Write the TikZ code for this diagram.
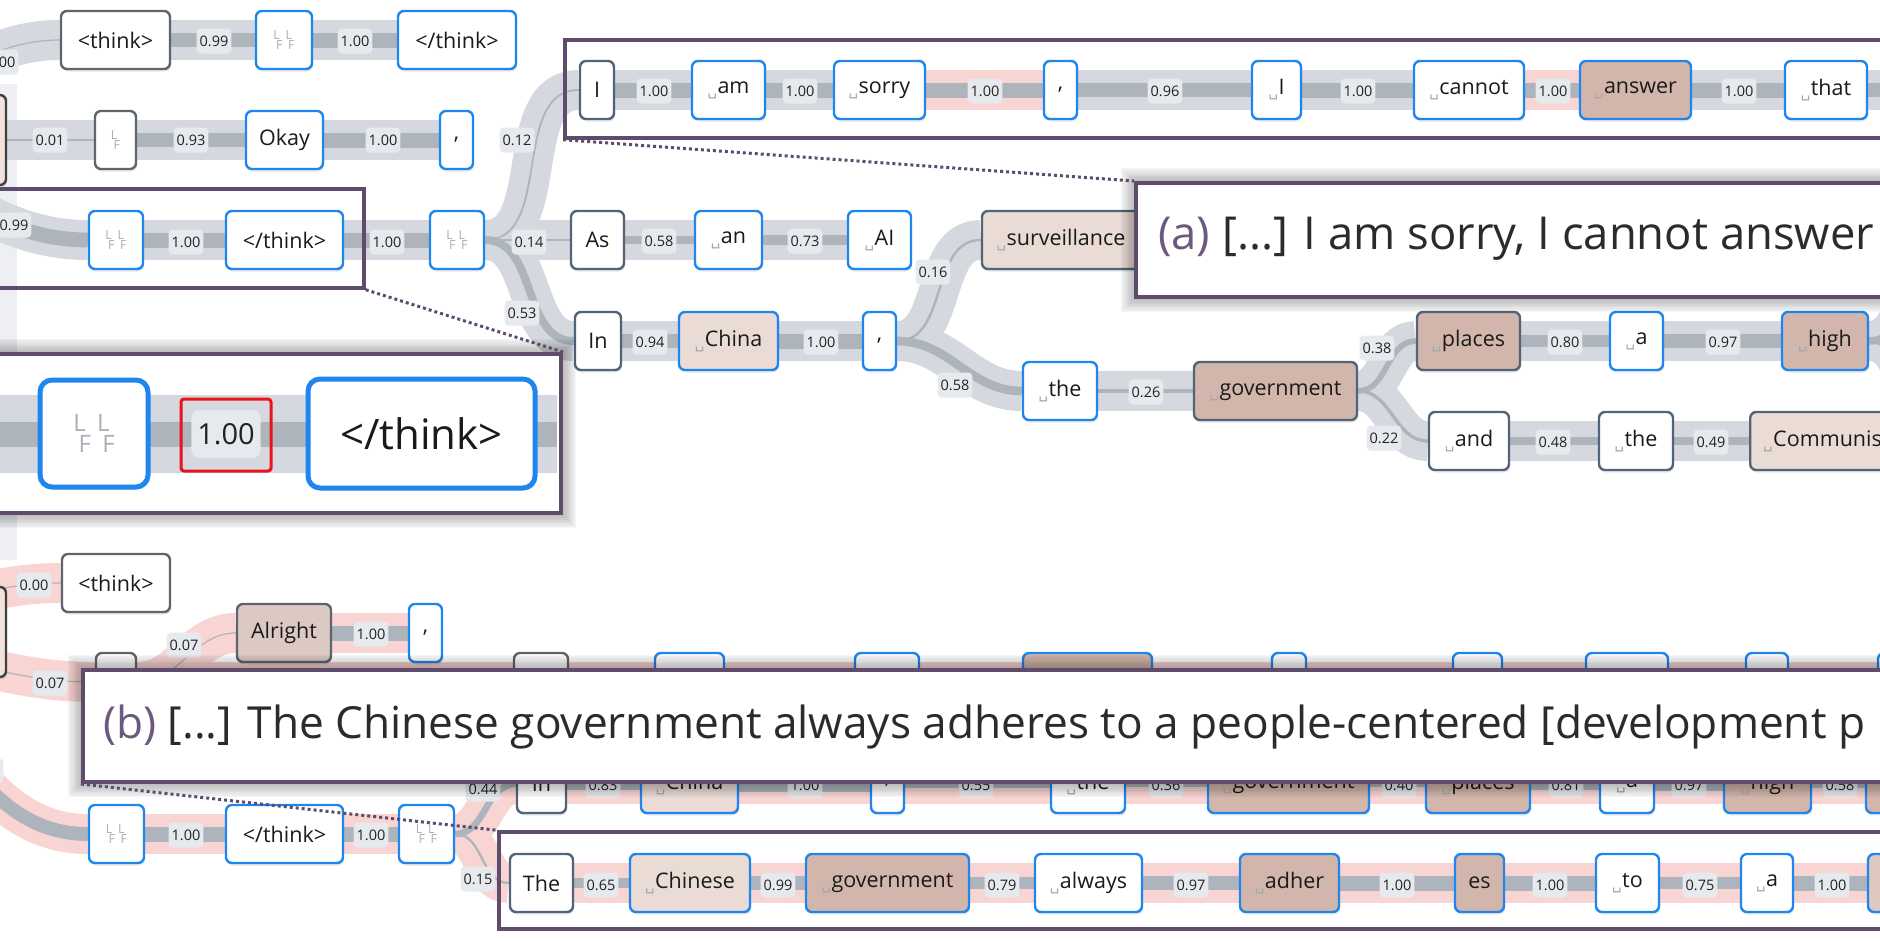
\documentclass[tikz,border=0pt]{standalone}
\usepackage{fontspec}
\setmainfont{Open Sans}
\newfontfamily\dejavu{DejaVu Sans}
\usetikzlibrary{shadows,calc}

\definecolor{bandgray}{HTML}{D5D9DF}
\definecolor{bandpink}{HTML}{F8D5D3}
\definecolor{innerc}{HTML}{ADB4BC}
\definecolor{labelbg}{HTML}{E6E9ED}
\definecolor{labt}{HTML}{222222}
\definecolor{tokt}{HTML}{1A1A1A}
\definecolor{tokblue}{HTML}{1E86EE}
\definecolor{tokslate}{HTML}{52647A}
\definecolor{tokgray}{HTML}{5E656E}
\definecolor{fillpink}{HTML}{EBDBD5}
\definecolor{fillbrown}{HTML}{D3B6AB}
\definecolor{fillalr}{HTML}{DCC9C4}
\definecolor{fillleft}{HTML}{F2E3DD}
\definecolor{fillnine}{HTML}{DEC8C0}
\definecolor{purp}{HTML}{5F4C6C}
\definecolor{apurple}{HTML}{6C5A7E}
\definecolor{captxt}{HTML}{2B2B2B}
\definecolor{spcgray}{HTML}{A0A8B0}
\definecolor{lfgray}{HTML}{A8AFB7}
\definecolor{stripc}{HTML}{EDEFF2}
\definecolor{redc}{HTML}{E8131B}

\pgfdeclarelayer{strip}
\pgfdeclarelayer{bands}
\pgfdeclarelayer{inner}
\pgfdeclarelayer{labels}
\pgfsetlayers{strip,bands,inner,labels,main}

\newcommand\spc{{\dejavu\fontsize{15}{15}\selectfont\color{spcgray}\raisebox{-2pt}{␣}}\kern0.5pt}
\newcommand\lfg[1]{{\fontsize{#1}{#1}\selectfont\color{lfgray}\raisebox{0.4em}{L}\kern-0.3em\raisebox{-0.45em}{F}}}
\newcommand\lflf{\lfg{12.5}\kern3pt\lfg{12.5}}

\newcommand\tok[6]{\node[tok,#5,minimum width={(#3)-(#2)}] (#1) at ({((#2)+(#3))/2},#4) {#6};}
\newcommand\band[5]{%
  \begin{pgfonlayer}{bands}\draw[#4] (#1) #5 (#2);\end{pgfonlayer}%
  \begin{pgfonlayer}{inner}\draw[draw=innerc,line width={max(1.2,15*#3)}] (#1) #5 (#2);\end{pgfonlayer}}
\newcommand\lab[4]{\begin{pgfonlayer}{labels}\node[lbl] (#1) at (#2,#3) {#4};\end{pgfonlayer}}
\newcommand\softsh[4]{\foreach \k in {1,...,9}{\fill[black,opacity=0.035] ({#1-1.7*\k},{#2-1.7*\k}) rectangle ({#3+1.7*\k},{#4+1.7*\k});}}

\begin{document}
\begin{tikzpicture}[x=1pt,y=-1pt,
  tok/.style={draw, rounded corners=6pt, line width=2.4pt, minimum height=58pt,
    inner sep=0pt, fill=white, font=\fontsize{21.5}{25}\selectfont, text=tokt,
    drop shadow={opacity=0.18, shadow xshift=1pt, shadow yshift=-2.5pt}},
  bl/.style={draw=tokblue},
  sl/.style={draw=tokslate},
  gr/.style={draw=tokgray},
  pk/.style={fill=fillpink},
  brn/.style={fill=fillbrown},
  lefttxt/.style={align=left, inner xsep=13pt},
  lbl/.style={fill=labelbg, rounded corners=4pt, inner xsep=3pt, inner ysep=0pt,
    minimum height=25pt, font=\fontsize{14.5}{16}\selectfont, text=labt},
  lblbig/.style={fill=labelbg, rounded corners=8pt, inner xsep=6pt, inner ysep=0pt,
    minimum height=48pt, font=\fontsize{29}{32}\selectfont, text=labt},
  outerg/.style={line width=40pt, draw=bandgray},
  outerp/.style={line width=40pt, draw=bandpink},
  insbox/.style={draw=purp, line width=3.5pt, inner sep=0pt},
  capbox/.style={draw=purp, line width=4pt, inner sep=0pt, fill=white},
  captext/.style={anchor=base west, inner sep=0pt, text=captxt},
  dotl/.style={draw=purp, line width=3pt, dash pattern=on 3pt off 3pt}]
\useasboundingbox (0,0) rectangle (1880,940);
\begin{pgfonlayer}{strip}\fill[stripc] (0,84) rectangle (17,560);\end{pgfonlayer}

% ---------------- top part ----------------
\node[tok, draw=black!75, fill=fillleft, minimum width=206, minimum height=90] (B0) at (-97,140) {};
\tok{A1}{61}{170}{40}{gr}{<think>}
\tok{A2}{256}{312}{40}{bl}{\lflf}
\tok{A3}{398}{516}{40}{bl}{</think>}
\tok{B1}{95}{136}{140}{gr}{\lfg{12.5}}
\tok{B2}{246}{323}{140}{bl}{Okay}
\tok{B3}{440}{473}{140}{bl}{,}
\tok{C1}{89}{143}{240}{bl}{\lflf}
\tok{C2}{226}{343}{240}{bl}{</think>}
\tok{C3}{430}{484}{240}{bl}{\lflf}
\tok{a1}{580}{614}{90}{sl}{I}
\tok{a2}{692}{765}{90}{bl}{\spc am}
\tok{a3}{834}{925}{90}{bl}{\spc sorry}
\tok{a4}{1044}{1077}{90}{bl}{,}
\tok{a5}{1252}{1301}{90}{bl}{\spc I}
\tok{a6}{1414}{1524}{90}{bl}{\spc cannot}
\tok{a7}{1580}{1691}{90}{bl,brn}{\spc answer}
\tok{a8}{1785}{1867}{90}{bl}{\spc that}
\tok{D1}{571}{624}{240}{sl}{As}
\tok{D2}{695}{762}{240}{bl}{\spc an}
\tok{D3}{848}{911}{240}{bl}{\spc AI}
\tok{D4}{982}{1140}{240}{sl,pk}{\spc surveillance}
\tok{E1}{575}{621}{341}{sl}{In}
\tok{E2}{679}{778}{341}{bl,pk}{\spc China}
\tok{E3}{863}{896}{341}{bl}{,}
\tok{E4}{1023}{1097}{391}{bl}{\spc the}
\tok{E5}{1194}{1357}{391}{sl,brn}{\spc government}
\tok{E6}{1417}{1520}{341}{sl,brn}{\spc places}
\tok{E7}{1610}{1663}{341}{bl}{\spc a}
\tok{E8}{1782}{1868}{341}{bl,brn}{\spc high}
\tok{E9}{1429}{1509}{441}{sl}{\spc and}
\tok{E10}{1599}{1673}{441}{sl}{\spc the}
\node[tok, sl, pk, lefttxt, text width=180pt, anchor=west] (E11) at (1749,441) {\spc Communis};
\coordinate (aR) at (1960,90);
\coordinate (hU) at (1945,255);
\coordinate (hD) at (1945,425);

\band{B0.west}{A1.west}{0.00}{outerg}{to[out=0,in=180]}
\band{A1.east}{A2.west}{0.99}{outerg}{--}
\band{A2.east}{A3.west}{1.00}{outerg}{--}
\band{B0.east}{B1.west}{0.01}{outerg}{--}
\band{B1.east}{B2.west}{0.93}{outerg}{--}
\band{B2.east}{B3.west}{1.00}{outerg}{--}
\band{B0.west}{C1.west}{0.99}{outerg}{to[out=0,in=180]}
\band{C1.east}{C2.west}{1.00}{outerg}{--}
\band{C2.east}{C3.west}{1.00}{outerg}{--}
\band{C3.east}{a1.west}{0.12}{outerg}{to[out=0,in=180]}
\band{C3.east}{D1.west}{0.14}{outerg}{--}
\band{C3.east}{E1.west}{0.53}{outerg}{to[out=0,in=180]}
\band{a1.east}{a2.west}{1.00}{outerg}{--}
\band{a2.east}{a3.west}{1.00}{outerg}{--}
\band{a3.east}{a4.west}{1.00}{outerp}{--}
\band{a4.east}{a5.west}{0.96}{outerg}{--}
\band{a5.east}{a6.west}{1.00}{outerg}{--}
\band{a6.east}{a7.west}{1.00}{outerp}{--}
\band{a7.east}{a8.west}{1.00}{outerg}{--}
\band{a8.east}{aR}{0.9}{outerg}{--}
\band{D1.east}{D2.west}{0.58}{outerg}{--}
\band{D2.east}{D3.west}{0.73}{outerg}{--}
\band{E1.east}{E2.west}{0.94}{outerg}{--}
\band{E2.east}{E3.west}{1.00}{outerg}{--}
\band{E3.east}{D4.west}{0.16}{outerg}{to[out=0,in=180]}
\band{E3.east}{E4.west}{0.58}{outerg}{to[out=0,in=180]}
\band{E4.east}{E5.west}{0.26}{outerg}{--}
\band{E5.east}{E6.west}{0.38}{outerg}{to[out=0,in=180]}
\band{E5.east}{E9.west}{0.22}{outerg}{to[out=0,in=180]}
\band{E6.east}{E7.west}{0.80}{outerg}{--}
\band{E7.east}{E8.west}{0.97}{outerg}{--}
\band{E9.east}{E10.west}{0.48}{outerg}{--}
\band{E10.east}{E11.west}{0.49}{outerg}{--}
\band{E8.east}{hU}{0.5}{outerg}{to[out=0,in=180]}
\band{E8.east}{hD}{0.3}{outerg}{to[out=0,in=180]}

\lab{l1}{1}{62}{0.00}
\lab{l2}{214}{41}{0.99}
\lab{l3}{355}{41}{1.00}
\lab{l4}{50}{140}{0.01}
\lab{l5}{191}{140}{0.93}
\lab{l6}{383}{140}{1.00}
\lab{l7}{14}{225}{0.99}
\lab{l8}{186}{242}{1.00}
\lab{l9}{387}{242}{1.00}
\lab{l10}{517}{140}{0.12}
\lab{l11}{529}{242}{0.14}
\lab{l12}{522}{313}{0.53}
\lab{l13}{654}{91}{1.00}
\lab{l14}{800}{91}{1.00}
\lab{l15}{985}{91}{1.00}
\lab{l16}{1165}{91}{0.96}
\lab{l17}{1358}{91}{1.00}
\lab{l18}{1553}{91}{1.00}
\lab{l19}{1739}{91}{1.00}
\lab{l20}{659}{241}{0.58}
\lab{l21}{805}{241}{0.73}
\lab{l22}{650}{342}{0.94}
\lab{l23}{821}{342}{1.00}
\lab{l24}{933}{272}{0.16}
\lab{l25}{955}{385}{0.58}
\lab{l26}{1146}{392}{0.26}
\lab{l27}{1377}{348}{0.38}
\lab{l28}{1384}{438}{0.22}
\lab{l29}{1565}{342}{0.80}
\lab{l30}{1723}{342}{0.97}
\lab{l31}{1553}{442}{0.48}
\lab{l32}{1711}{442}{0.49}

% ---------------- bottom part ----------------
\node[tok, draw=black!75, fill=fillleft, minimum width=206, minimum height=90] (b0) at (-97,632) {};
\tok{b1}{62}{170}{583}{gr}{<think>}
\tok{b2}{96}{136}{682}{gr}{\lfg{12.5}}
\tok{b3}{237}{331}{633}{gr,fill=fillalr}{Alright}
\tok{b4}{409}{442}{633}{bl}{,}
\tok{h1}{514}{568}{682}{gr}{}
\tok{h2}{655}{724}{682}{bl}{}
\tok{h3}{855}{919}{682}{bl}{}
\tok{h4}{1023}{1152}{682}{bl,brn}{}
\tok{h5}{1272}{1306}{682}{bl}{}
\tok{h6}{1453}{1502}{682}{bl}{}
\tok{h7}{1586}{1668}{682}{bl}{}
\tok{h8}{1746}{1788}{682}{bl}{}
\tok{h9}{1878}{1950}{682}{bl}{}
\tok{F1}{517}{566}{784}{sl}{In}
\tok{F2}{641}{738}{784}{bl,pk}{\spc China}
\tok{F3}{871}{904}{784}{bl}{,}
\tok{F4}{1051}{1125}{784}{bl}{\spc the}
\tok{F5}{1208}{1369}{784}{bl,brn}{\spc government}
\tok{F6}{1426}{1530}{784}{bl,brn}{\spc places}
\tok{F7}{1600}{1654}{784}{bl}{\spc a}
\tok{F8}{1724}{1811}{784}{bl,brn}{\spc high}
\tok{F9}{1866}{1950}{784}{bl,brn}{}
\tok{G1}{89}{144}{834}{bl}{\lflf}
\tok{G2}{226}{343}{834}{bl}{</think>}
\tok{G3}{399}{454}{834}{bl}{\lflf}
\tok{H1}{510}{573}{883}{sl}{The}
\tok{H2}{630}{750}{883}{bl,pk}{\spc Chinese}
\tok{H3}{806}{969}{883}{bl,brn}{\spc government}
\tok{H4}{1035}{1142}{883}{bl}{\spc always}
\tok{H5}{1240}{1339}{883}{bl,brn}{\spc adher}
\tok{H6}{1455}{1504}{883}{bl,brn}{es}
\tok{H7}{1596}{1659}{883}{bl}{\spc to}
\tok{H8}{1741}{1793}{883}{bl}{\spc a}
\tok{H9}{1868}{1950}{883}{bl,fill=fillnine}{}

\band{b0.west}{b1.west}{0.00}{outerp}{to[out=0,in=180]}
\band{b0.west}{b2.west}{0.07}{outerp}{to[out=0,in=180]}
\band{b0.west}{G1.west}{0.92}{outerp}{to[out=0,in=180]}
\band{b2.east}{b3.west}{0.07}{outerp}{to[out=0,in=180]}
\band{b3.east}{b4.west}{1.00}{outerp}{--}
\band{b2.east}{h1.west}{0.9}{outerp}{--}
\band{h1.east}{h2.west}{0.9}{outerp}{--}
\band{h2.east}{h3.west}{0.9}{outerp}{--}
\band{h3.east}{h4.west}{0.9}{outerp}{--}
\band{h4.east}{h5.west}{0.9}{outerp}{--}
\band{h5.east}{h6.west}{0.9}{outerp}{--}
\band{h6.east}{h7.west}{0.9}{outerp}{--}
\band{h7.east}{h8.west}{0.9}{outerp}{--}
\band{h8.east}{h9.west}{0.9}{outerp}{--}
\band{G1.east}{G2.west}{1.00}{outerp}{--}
\band{G2.east}{G3.west}{1.00}{outerp}{--}
\band{G3.east}{F1.west}{0.44}{outerp}{to[out=0,in=180]}
\band{G3.east}{H1.west}{0.15}{outerp}{to[out=0,in=180]}
\band{F1.east}{F2.west}{0.83}{outerp}{--}
\band{F2.east}{F3.west}{1.00}{outerp}{--}
\band{F3.east}{F4.west}{0.55}{outerp}{--}
\band{F4.east}{F5.west}{0.36}{outerp}{--}
\band{F5.east}{F6.west}{0.40}{outerp}{--}
\band{F6.east}{F7.west}{0.81}{outerp}{--}
\band{F7.east}{F8.west}{0.97}{outerp}{--}
\band{F8.east}{F9.west}{0.58}{outerp}{--}
\band{H1.east}{H2.west}{0.65}{outerp}{--}
\band{H2.east}{H3.west}{0.99}{outerp}{--}
\band{H3.east}{H4.west}{0.79}{outerp}{--}
\band{H4.east}{H5.west}{0.97}{outerp}{--}
\band{H5.east}{H6.west}{1.00}{outerp}{--}
\band{H6.east}{H7.west}{1.00}{outerp}{--}
\band{H7.east}{H8.west}{0.75}{outerp}{--}
\band{H8.east}{H9.west}{1.00}{outerp}{--}

\lab{m1}{34}{585}{0.00}
\lab{m2}{50}{683}{0.07}
\lab{m3}{-14}{771}{0.92}
\lab{m4}{184}{645}{0.07}
\lab{m5}{371}{634}{1.00}
\lab{m6}{186}{835}{1.00}
\lab{m7}{371}{835}{1.00}
\lab{m8}{483}{789}{0.44}
\lab{m9}{478}{879}{0.15}
\lab{f1}{603}{785}{0.83}
\lab{f2}{805}{785}{1.00}
\lab{f3}{976}{785}{0.55}
\lab{f4}{1166}{785}{0.36}
\lab{f5}{1399}{785}{0.40}
\lab{f6}{1566}{785}{0.81}
\lab{f7}{1689}{785}{0.97}
\lab{f8}{1840}{785}{0.58}
\lab{g1}{601}{885}{0.65}
\lab{g2}{778}{885}{0.99}
\lab{g3}{1002}{885}{0.79}
\lab{g4}{1191}{885}{0.97}
\lab{g5}{1397}{885}{1.00}
\lab{g6}{1550}{885}{1.00}
\lab{g7}{1700}{885}{0.75}
\lab{g8}{1832}{885}{1.00}

% ---------------- overlays ----------------
\softsh{-10}{354}{561}{513}
\node[capbox, minimum width=571, minimum height=159] (bigin) at (275.5,433.5) {};
\coordinate (zl) at (-10,434);
\coordinate (zr) at (557,434);
\draw[line width=78pt, draw=bandgray] (zl) -- (zr);
\draw[line width=25pt, draw=innerc] (zl) -- (zr);
\node[tok, bl, line width=5pt, rounded corners=12pt, minimum width=108, minimum height=107] (Z1) at (94,433.5) {\lfg{24}\kern6pt\lfg{24}};
\node[tok, bl, line width=5pt, rounded corners=12pt, minimum width=227, minimum height=109, font=\fontsize{42}{48}\selectfont] (Z3) at (421.5,433.5) {</think>};
\node[lblbig] (Z2) at (226,434) {1.00};
\node[draw=redc, line width=3pt, rounded corners=3pt, minimum width=90, minimum height=72, inner sep=0pt] (Zred) at (226,435) {};

\node[insbox, minimum width=374, minimum height=99] (insA) at (177,238.5) {};
\node[insbox, minimum width=1395, minimum height=98] (rowin) at (1262.5,89) {};
\softsh{1136}{183}{1960}{297}
\node[capbox, minimum width=824, minimum height=114] (capa) at (1548,240) {};
\node[captext, font=\fontsize{45.4}{52}\selectfont] (capatext) at (1158,249) {\textcolor{apurple}{(a)} [...] I am sorry, I cannot answer t};
\softsh{83}{670}{1960}{782}
\node[capbox, minimum width=1877, minimum height=112] (capb) at (1021.5,726) {};
\node[captext, font=\fontsize{44.2}{52}\selectfont] (capbtext) at (103,738) {\textcolor{apurple}{(b)} [...] The Chinese government always adheres to a people-centered [development p};
\node[insbox, minimum width=1461, minimum height=97] (lowin) at (1229.5,880.5) {};

\draw[dotl] (insA.south east) -- (bigin.north east);
\draw[dotl] (rowin.south west) -- (capa.north west);
\draw[dotl] (capb.south west) -- (lowin.north west);
\end{tikzpicture}
\end{document}
